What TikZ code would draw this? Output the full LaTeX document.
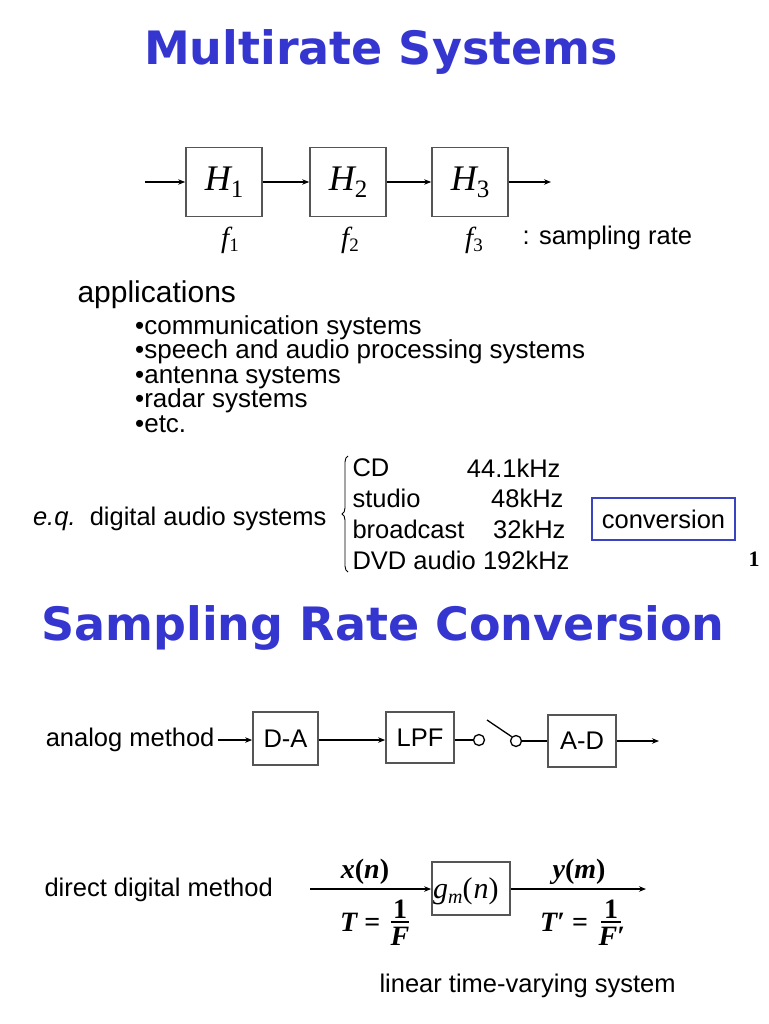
\documentclass[tikz,border=0pt]{standalone}
\usepackage[no-math]{fontspec}
\setmainfont{Liberation Sans}
\newfontfamily\tnr{Liberation Serif}
\newfontfamily\titlefont{DejaVu Sans}
\usetikzlibrary{arrows.meta,decorations.pathreplacing}
\definecolor{titleblue}{HTML}{3535D0}
\definecolor{boxgray}{HTML}{555555}
\definecolor{convblue}{HTML}{3A44C0}
\newcommand{\Hsub}[1]{{\fontsize{36}{40}\selectfont\tnr\itshape H}{\fontsize{25}{28}\selectfont\tnr\raisebox{-7pt}{#1}}}
\newcommand{\fsub}[1]{{\fontsize{29}{32}\selectfont\tnr\itshape f}{\fontsize{19}{21}\selectfont\tnr\raisebox{-4pt}{#1}}}
\newcommand{\bfi}[1]{{\bfseries\itshape #1}}
\newcommand{\bfu}[1]{{\bfseries #1}}
\tikzset{
  blk/.style={draw=boxgray, line width=1.7pt, inner sep=0pt, fill=white},
  arr/.style={-{Stealth[length=7pt,width=5.5pt]}, line width=1.3pt},
  ln/.style={line width=1.3pt},
  title/.style={text=titleblue, font=\fontsize{46}{50}\selectfont\titlefont\bfseries},
  body/.style={font=\fontsize{25.5}{29}\selectfont},
  sw/.style={circle, draw, line width=1.3pt, minimum size=11pt, inner sep=0pt},
  lbl/.style={font=\fontsize{28}{30}\selectfont\tnr, inner sep=0pt},
  fracrule/.style={line width=1.5pt},
}
\begin{document}
\begin{tikzpicture}[x=1pt,y=-1pt]
\useasboundingbox (0,0) rectangle (768,1024);
% Title 1
\node[title] (t1) at (381,52) {Multirate Systems};
% Chain H1 H2 H3
\node[blk, minimum width=76pt, minimum height=69pt] (h1) at (224,182) {\Hsub{1}};
\node[blk, minimum width=76pt, minimum height=69pt] (h2) at (348,182) {\Hsub{2}};
\node[blk, minimum width=76pt, minimum height=69pt] (h3) at (470,182) {\Hsub{3}};
\coordinate (hin) at (145,182);
\coordinate (hout) at (551,182);
\draw[arr] (hin) -- (h1);
\draw[arr] (h1) -- (h2);
\draw[arr] (h2) -- (h3);
\draw[arr] (h3) -- (hout);
\node (f1) at (230,240) {\fsub{1}};
\node (f2) at (350,240) {\fsub{2}};
\node (f3) at (474,240) {\fsub{3}};
\node[body, anchor=west] (sr) at (519,238) {: sampling rate};
% applications
\node[font=\fontsize{30}{34}\selectfont, anchor=west] (app) at (74,295) {applications};
\node[font=\fontsize{26}{24.5}\selectfont, anchor=north west, align=left, inner sep=0pt] (bl) at (135,315)
  {\lineskiplimit=-20pt •communication systems\\ •speech and audio processing systems\\ •antenna systems\\ •radar systems\\ •etc.};
% digital audio
\node[body, anchor=east] (eq) at (330,519) {\textit{e.q.}\ \ digital audio systems};
\coordinate (brt) at (348,456);
\coordinate (brb) at (348,572);
\draw[line width=0.9pt, decorate, decoration={brace, amplitude=6pt, mirror}] (brt) -- (brb);
\node[body, anchor=west] (cd) at (349,468) {CD};
\node[body, anchor=west] (st) at (349,498) {studio};
\node[body, anchor=west] (bc) at (349,529) {broadcast};
\node[body, anchor=west] (dvd) at (349,560) {DVD audio};
\node[body, anchor=east] (r1) at (564,468) {44.1kHz};
\node[body, anchor=east] (r2) at (567,498) {48kHz};
\node[body, anchor=east] (r3) at (569,529) {32kHz};
\node[body, anchor=east] (r4) at (573,560) {192kHz};
\node[body, draw=convblue, line width=1.5pt, minimum width=143pt, minimum height=42pt, inner sep=0pt] (conv) at (663.5,519) {conversion};
\node (pg) at (754,559) {\fontsize{22}{24}\selectfont\tnr\bfseries 1};
% Title 2
\node[title] (t2) at (383,628) {Sampling Rate Conversion};
% analog method
\node[body, anchor=east] (am) at (218,740) {analog method};
\node[blk, body, minimum width=65pt, minimum height=53pt] (da) at (285.5,738.5) {D-A};
\node[blk, body, minimum width=68pt, minimum height=51pt] (lpf) at (420,737.5) {LPF};
\node[blk, body, minimum width=68pt, minimum height=52pt] (ad) at (582,741) {A-D};
\node[sw] (c1) at (479,740) {};
\node[sw] (c2) at (516,741) {};
\coordinate (swt) at (487,720);
\coordinate (aout) at (659,741);
\draw[arr] (am) -- (da.west |- am);
\draw[arr] (da.east |- 740,740) -- (lpf.west |- 740,740);
\draw[ln] (lpf.east |- c1) -- (c1);
\draw[ln] (swt) -- (c2.north west);
\draw[ln] (c2) -- (ad.west |- c2);
\draw[arr] (ad.east |- c2) -- (aout);
% direct digital method
\node[body, anchor=west] (dd) at (41,890) {direct digital method};
\node[blk, minimum width=78pt, minimum height=53pt] (g) at (471,888.5) {};
\node[font=\fontsize{30}{32}\selectfont\tnr, anchor=west, inner sep=0pt] (gt) at (433,891)
  {{\itshape g}\raisebox{-5pt}{\fontsize{20}{22}\selectfont\itshape m}(\kern1pt{\itshape n})};
\coordinate (din) at (310,889);
\coordinate (dout) at (646,889);
\draw[arr] (din) -- (g.west |- din);
\draw[arr] (g.east |- dout) -- (dout);
% input labels
\node[lbl, anchor=base] (xn) at (365,878) {\bfi{x}\bfu{(}\bfi{n}\bfu{)}};
\node[lbl, anchor=base west] (teq) at (340,931) {\bfi{T} \bfu{=}};
\node[lbl, anchor=base] (num1) at (400,918) {\bfu{1}};
\node[lbl, anchor=base] (den1) at (400,945) {\bfi{F}};
\coordinate (r1a) at (391,922);
\coordinate (r1b) at (409,922);
\draw[fracrule] (r1a) -- (r1b);
% output labels
\node[lbl, anchor=base] (ym) at (579,878) {\bfi{y}\bfu{(}\bfi{m}\bfu{)}};
\node[lbl, anchor=base west] (teq2) at (540,931) {\bfi{T}\bfu{′} \bfu{=}};
\node[lbl, anchor=base] (num2) at (611,918) {\bfu{1}};
\node[lbl, anchor=base] (den2) at (612,945) {\bfi{F}\bfu{′}};
\coordinate (r2a) at (601,922);
\coordinate (r2b) at (621,922);
\draw[fracrule] (r2a) -- (r2b);
\node[body, anchor=west] (ltv) at (376,986) {linear time-varying system};
\end{tikzpicture}
\end{document}
